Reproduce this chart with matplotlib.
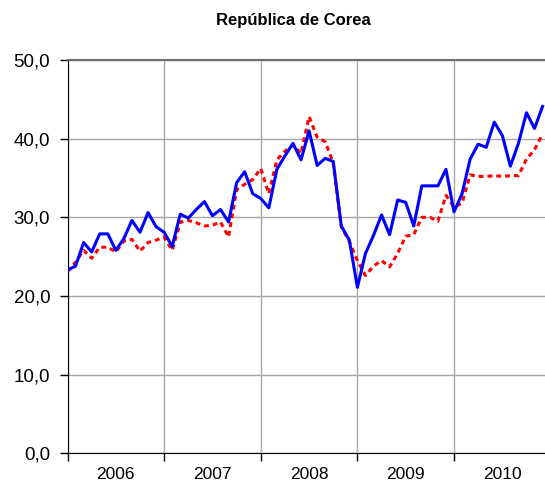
import matplotlib
matplotlib.use("Agg")
import matplotlib.pyplot as plt
from matplotlib.ticker import FixedLocator, FixedFormatter, NullFormatter

# monthly series, jan 2006 - dec 2010
serie_azul = [23.3, 23.8, 26.8, 25.6, 27.9, 27.9, 25.8, 27.3, 29.6, 28.1, 30.6, 28.8,
              28.1, 26.3, 30.4, 29.9, 31.0, 32.0, 30.2, 31.0, 29.4, 34.4, 35.8, 33.0,
              32.4, 31.2, 36.1, 37.8, 39.4, 37.3, 41.0, 36.6, 37.5, 37.1, 28.9, 27.1,
              21.1, 25.4, 27.7, 30.3, 27.8, 32.2, 31.9, 28.9, 34.0, 34.0, 34.0, 36.1,
              30.7, 33.0, 37.4, 39.3, 38.9, 42.1, 40.4, 36.5, 39.4, 43.3, 41.3, 44.1]
serie_roja = [23.1, 24.3, 25.8, 24.8, 26.2, 26.2, 25.6, 27.0, 27.2, 25.7, 26.8, 27.1,
              27.5, 25.8, 29.4, 29.6, 29.3, 28.9, 29.0, 29.4, 27.5, 33.5, 34.2, 34.8,
              36.2, 33.0, 37.3, 38.4, 39.2, 38.1, 42.8, 40.2, 39.6, 36.9, 28.8, 26.9,
              24.5, 22.6, 23.8, 24.5, 23.7, 25.4, 27.6, 27.8, 30.0, 30.0, 29.5, 32.8,
              31.3, 31.8, 35.4, 35.2, 35.2, 35.3, 35.2, 35.3, 35.3, 37.4, 38.6, 40.6]
anios = ["2006", "2007", "2008", "2009", "2010"]
y_ticks = [0, 10, 20, 30, 40, 50]
y_labels = ["0,0", "10,0", "20,0", "30,0", "40,0", "50,0"]
titulo = "República de Corea"

plt.rcParams['font.family'] = ['Liberation Sans', 'DejaVu Sans']

fig = plt.figure(figsize=(5.45, 4.93), dpi=100)
ax = fig.add_axes([0.1239, 0.0805, 0.8761, 0.7978])

meses = list(range(len(serie_azul)))
ax.plot(meses, serie_roja, color="#ff0000", lw=2.2, linestyle=(0, (1.6, 1.3)),
        dash_capstyle="butt", zorder=3)
ax.plot(meses, serie_azul, color="#0000ff", lw=2.2, zorder=4)

ax.set_ylim(0, 50)
ax.set_xlim(0, 59.3)

# y axis
ax.yaxis.set_major_locator(FixedLocator(y_ticks))
ax.yaxis.set_major_formatter(FixedFormatter(y_labels))
ax.tick_params(axis="y", length=6, width=1, pad=6.5, labelsize=13.5, color="#000000")

# x axis: year boundaries as ticks, names centered in each year
bordes = [12 * k for k in range(len(anios))]
centros = [12 * k + 6 for k in range(len(anios))]
ax.xaxis.set_major_locator(FixedLocator(bordes))
ax.xaxis.set_major_formatter(NullFormatter())
ax.xaxis.set_minor_locator(FixedLocator(centros))
ax.xaxis.set_minor_formatter(FixedFormatter(anios))
ax.tick_params(axis="x", which="major", length=6, width=1, color="#000000")
ax.tick_params(axis="x", which="minor", length=0, pad=10, labelsize=12.5)

ax.grid(True, which="major", color="#a8a8a8", lw=1.0)
ax.set_axisbelow(True)

ax.spines["left"].set_color("#000000")
ax.spines["bottom"].set_color("#000000")
ax.spines["top"].set_color("#6e6e6e")
ax.spines["top"].set_linewidth(1.5)
ax.spines["right"].set_visible(False)

fig.text(293 / 545, 1 - 20 / 493, titulo, ha="center", va="center",
         fontsize=12, fontweight="bold")

fig.savefig("out.png", dpi=100)
